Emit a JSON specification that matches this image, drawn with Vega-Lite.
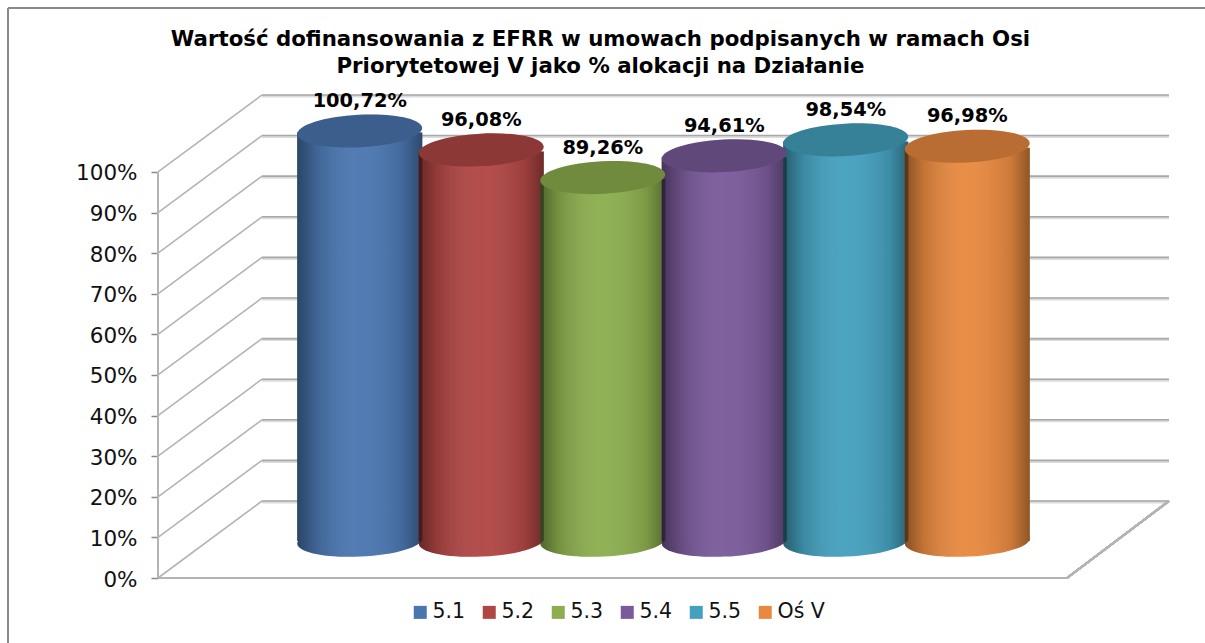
{
"$schema":"https://vega.github.io/schema/vega-lite/v6.json",
"width":1011,"height":484,
"autosize":{"type":"none"},
"padding":{"left":158,"top":94,"right":36,"bottom":65},
"background":"white",
"config":{"view":{"stroke":null}},
"title":{"text":["Wartość dofinansowania z EFRR w umowach podpisanych w ramach Osi","Priorytetowej V jako % alokacji na Działanie"],"font":"DejaVu Sans","fontSize":21.3,"fontWeight":"bold","color":"#000000","lineHeight":27,"anchor":"middle","dx":-63,"offset":-70},
"datasets":{
"slupki":[
{"dzialanie":"5.1","wartosc":100.72,"etykieta":"100,72%"},
{"dzialanie":"5.2","wartosc":96.08,"etykieta":"96,08%"},
{"dzialanie":"5.3","wartosc":89.26,"etykieta":"89,26%"},
{"dzialanie":"5.4","wartosc":94.61,"etykieta":"94,61%"},
{"dzialanie":"5.5","wartosc":98.54,"etykieta":"98,54%"},
{"dzialanie":"Oś V","wartosc":96.98,"etykieta":"96,98%"}],
"podzialka":[{"t":0},{"t":10},{"t":20},{"t":30},{"t":40},{"t":50},{"t":60},{"t":70},{"t":80},{"t":90},{"t":100}]
},
"resolve":{"scale":{"x":"independent"}},
"layer":[
{"data":{"name":"podzialka"},
 "encoding":{"x":{"datum":0,"type":"quantitative","scale":{"domain":[0,1011],"nice":false,"zero":false},"axis":null}},
 "layer":[
 {"mark":{"type":"tick","opacity":0},"encoding":{"y":{"field":"t","type":"quantitative","scale":{"domain":[0,119.2],"nice":false,"zero":false},"axis":{"values":[0,10,20,30,40,50,60,70,80,90,100],"title":null,"domain":false,"grid":false,"ticks":true,"tickSize":7,"tickColor":"#8a8a8a","tickWidth":1.5,"labelFont":"DejaVu Sans","labelFontSize":21.5,"labelColor":"#111111","labelPadding":14,"labelOffset":2,"labelExpr":"datum.value + '%'"}}}},
 {"mark":{"type":"rule","stroke":"#8a8a8a","strokeWidth":2},"encoding":{"x":{"datum":-150,"type":"quantitative"},"x2":{"datum":-150},"y":{"datum":140.4,"type":"quantitative"},"y2":{"datum":-16}}},
 {"mark":{"type":"rule","stroke":"#8a8a8a","strokeWidth":2},"encoding":{"x":{"datum":-150,"type":"quantitative"},"x2":{"datum":1047},"y":{"datum":140.4,"type":"quantitative"},"y2":{"datum":140.4}}},
 {"mark":{"type":"rule","stroke":"#dcdcdc","strokeWidth":3,"yOffset":-76,"y2Offset":-76},"encoding":{"x":{"datum":104,"type":"quantitative"},"x2":{"datum":1011},"y":{"field":"t","type":"quantitative","title":null},"y2":{"field":"t"}}},
 {"mark":{"type":"rule","stroke":"#a8a8a8","strokeWidth":1.6,"yOffset":-77,"y2Offset":-77},"encoding":{"x":{"datum":104,"type":"quantitative"},"x2":{"datum":1011},"y":{"field":"t","type":"quantitative","title":null},"y2":{"field":"t"}}},
 {"mark":{"type":"rule","stroke":"#b4b4b4","strokeWidth":1.6,"y2Offset":-77},"encoding":{"x":{"datum":0,"type":"quantitative"},"x2":{"datum":104},"y":{"field":"t","type":"quantitative","title":null},"y2":{"field":"t"}}},
 {"mark":{"type":"rule","stroke":"#b4b4b4","strokeWidth":2},"encoding":{"x":{"datum":0,"type":"quantitative"},"x2":{"datum":0},"y":{"datum":0,"type":"quantitative"},"y2":{"datum":100}}},
 {"mark":{"type":"rule","stroke":"#b4b4b4","strokeWidth":2},"encoding":{"x":{"datum":0,"type":"quantitative"},"x2":{"datum":909},"y":{"datum":0,"type":"quantitative"},"y2":{"datum":0}}},
 {"mark":{"type":"rule","stroke":"#b4b4b4","strokeWidth":2,"y2Offset":-77},"encoding":{"x":{"datum":909,"type":"quantitative"},"x2":{"datum":1011},"y":{"datum":0,"type":"quantitative"},"y2":{"datum":0}}}
 ]},
{"data":{"name":"slupki"},
 "encoding":{"x":{"field":"dzialanie","type":"nominal","sort":null,"scale":{"domain":["5.1","5.2","5.3","5.4","5.5","Oś V"],"range":[141,870],"paddingInner":0,"paddingOuter":0},"axis":null},
  "y":{"field":"wartosc","type":"quantitative","title":null}},
 "layer":[
 {"mark":{"type":"point","shape":"M-1,0A1,0.25,0,1,0,1,0A1,0.25,0,1,0,-1,0Z","size":15625,"angle":-2.5,"filled":true,"opacity":1,"yOffset":-37},"encoding":{"y":{"datum":0,"type":"quantitative"},"color":{"field":"dzialanie","type":"nominal","title":null,"legend":{"symbolType":"square"}}}},
 {"mark":{"type":"point","shape":"M-1,0A1,0.25,0,1,0,1,0A1,0.25,0,1,0,-1,0Z","size":15625,"angle":-2.5,"filled":true,"opacity":1,"yOffset":-37,"fill":{"gradient":"linear","x1":0,"x2":1,"y1":0,"y2":0,"stops":[{"offset":0,"color":"rgba(0,0,0,0.42)"},{"offset":0.15,"color":"rgba(0,0,0,0.16)"},{"offset":0.5,"color":"rgba(255,255,255,0.04)"},{"offset":0.85,"color":"rgba(0,0,0,0.12)"},{"offset":1,"color":"rgba(0,0,0,0.38)"}]}},"encoding":{"y":{"datum":0,"type":"quantitative"}}},
 {"mark":{"type":"bar","width":{"band":1.03},"yOffset":-36.5,"y2Offset":-37},"encoding":{"y2":{"datum":0},"color":{"field":"dzialanie","type":"nominal","sort":null,"title":null,"scale":{"domain":["5.1","5.2","5.3","5.4","5.5","Oś V"],"range":["#4a76b0","#b04644","#8cae4e","#7a5a9a","#44a0be","#e8893f"]},"legend":{"title":null,"orient":"none","legendX":252,"legendY":508,"direction":"horizontal","columns":6,"symbolType":"square","symbolSize":169,"symbolStrokeWidth":0,"labelFont":"DejaVu Sans","labelFontSize":20.5,"labelColor":"#111111","columnPadding":13,"labelOffset":2}}}},
 {"mark":{"type":"bar","width":{"band":1.03},"yOffset":-36.5,"y2Offset":-37,"fill":{"gradient":"linear","x1":0,"x2":1,"y1":0,"y2":0,"stops":[{"offset":0,"color":"rgba(0,0,0,0.42)"},{"offset":0.15,"color":"rgba(0,0,0,0.16)"},{"offset":0.5,"color":"rgba(255,255,255,0.04)"},{"offset":0.85,"color":"rgba(0,0,0,0.12)"},{"offset":1,"color":"rgba(0,0,0,0.38)"}]}},"encoding":{"y2":{"datum":0}}},
 {"mark":{"type":"point","shape":"M-1,0A1,0.26,0,1,0,1,0A1,0.26,0,1,0,-1,0Z","size":15625,"angle":-3,"filled":true,"opacity":1,"yOffset":-38},"encoding":{"color":{"field":"dzialanie","type":"nominal","title":null,"legend":{"symbolType":"square"}}}},
 {"mark":{"type":"point","shape":"M-1,0A1,0.26,0,1,0,1,0A1,0.26,0,1,0,-1,0Z","size":15625,"angle":-3,"filled":true,"opacity":1,"yOffset":-38,"fill":"rgba(0,0,0,0.2)"}},
 {"mark":{"type":"text","font":"DejaVu Sans","fontSize":19.4,"fontWeight":"bold","color":"#000000","yOffset":-68,"baseline":"middle"},"encoding":{"text":{"field":"etykieta"}}}
 ]}
]}
